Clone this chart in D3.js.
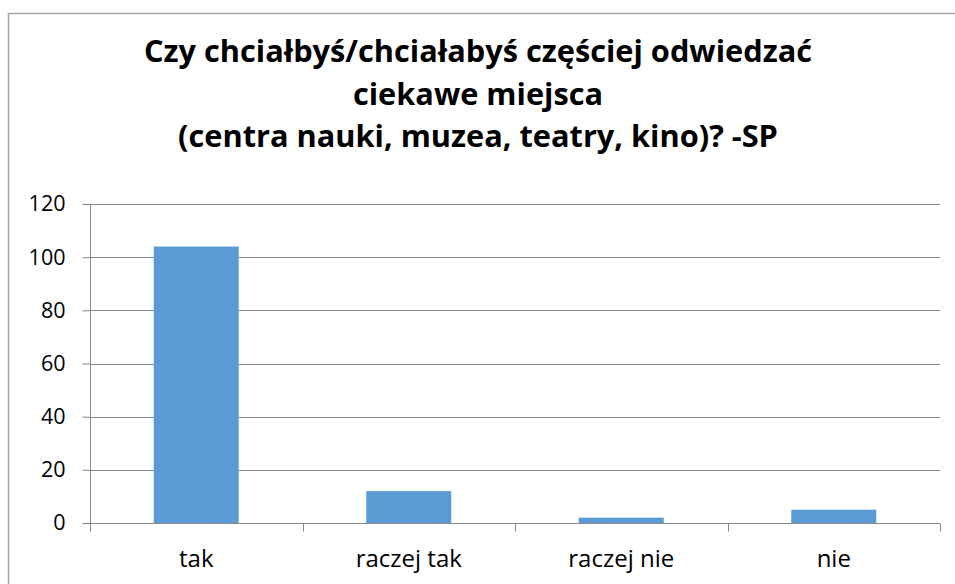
<!DOCTYPE html>
<html>
<head>
<meta charset="utf-8">
<script src="https://cdn.jsdelivr.net/npm/d3@7"></script>
<style>
  body { margin: 0; background: #fff; }
  svg { display: block; font-family: "Open Sans", sans-serif; }
</style>
</head>
<body>
<svg width="955" height="584"></svg>
<script>
let titleLines = ['Czy chciałbyś/chciałabyś częściej odwiedzać', 'ciekawe miejsca', '(centra nauki, muzea, teatry, kino)? -SP']
let categories = ['tak', 'raczej tak', 'raczej nie', 'nie']
let values = [104, 12, 2, 5]
let yTicks = [0, 20, 40, 60, 80, 100, 120]

let plotLeft = 90
let plotRight = 940
let plotTop = 204
let plotBottom = 523
let svg = d3.select('svg')

// chart border (right and bottom sides fall outside the picture)
svg.append('rect')
    .attr('x', 8.5).attr('y', 13.5)
    .attr('width', 960).attr('height', 600)
    .attr('fill', 'none')
    .attr('stroke', '#a6a6a6')
    .attr('stroke-width', 1.5)

let xScale = d3.scaleBand().domain(categories).range([plotLeft, plotRight]).paddingInner(0.6).paddingOuter(0.3)
let xBound = d3.scaleBand().domain(categories).range([plotLeft, plotRight])
let yScale = d3.scaleLinear().domain([0, 120]).range([plotBottom, plotTop])

// gridlines
svg.append('g')
    .selectAll('line')
    .data(yTicks.filter(d => d > 0))
    .enter()
    .append('line')
    .attr('x1', plotLeft).attr('x2', plotRight)
    .attr('y1', d => Math.round(yScale(d)) + 0.5)
    .attr('y2', d => Math.round(yScale(d)) + 0.5)
    .attr('stroke', '#898989')

// bars
svg.append('g')
    .selectAll('rect')
    .data(values)
    .enter()
    .append('rect')
    .attr('x', (d, i) => xScale(categories[i]))
    .attr('width', xScale.bandwidth())
    .attr('y', d => yScale(d))
    .attr('height', d => plotBottom - yScale(d))
    .attr('fill', '#5b9bd5')

// y axis
let yAxis = d3.axisLeft(yScale).tickValues(yTicks).tickSize(8).tickPadding(17)
let yg = svg.append('g').attr('transform', `translate(${plotLeft + 0.5},0)`).call(yAxis)
yg.select('.domain').attr('d', `M0,${plotTop}V${plotBottom + 8}`)
yg.selectAll('.tick text').style('font-size', '21.5px')

// x axis
let xAxis = d3.axisBottom(xBound).tickSize(0).tickPadding(26)
let xg = svg.append('g').attr('transform', `translate(0,${plotBottom + 0.5})`).call(xAxis)
xg.select('.domain').attr('d', `M${plotLeft},0H${plotRight}`)
xg.selectAll('.tick text').style('font-size', '24px')
xg.selectAll('.bound')
    .data(categories.concat(['end']))
    .enter()
    .append('line')
    .attr('class', 'bound')
    .attr('x1', (d, i) => Math.round(plotLeft + i * xBound.step()) + 0.5)
    .attr('x2', (d, i) => Math.round(plotLeft + i * xBound.step()) + 0.5)
    .attr('y1', 0).attr('y2', 8)
    .attr('stroke', '#898989')

svg.selectAll('.domain, .tick line').attr('stroke', '#898989')
svg.selectAll('.tick text')
    .attr('fill', '#000')
    .style('font-family', '"Open Sans", sans-serif')

// title, one text per line
let title = svg.append('g')
    .attr('text-anchor', 'middle')
    .style('font-weight', 'bold')
    .style('font-size', '30px')
    .attr('fill', '#000')
let lines = title.selectAll('text')
    .data(titleLines)
    .enter()
    .append('text')
    .attr('x', 478)
    .attr('y', (d, i) => 62 + i * 42.5)
    .text(d => d)

// squeeze lines a bit so the first one spans the same width as in the picture
let k = 668 / lines.node().getComputedTextLength()
lines.each(function () {
    let len = this.getComputedTextLength()
    d3.select(this).attr('textLength', len * k).attr('lengthAdjust', 'spacingAndGlyphs')
})
</script>
</body>
</html>
